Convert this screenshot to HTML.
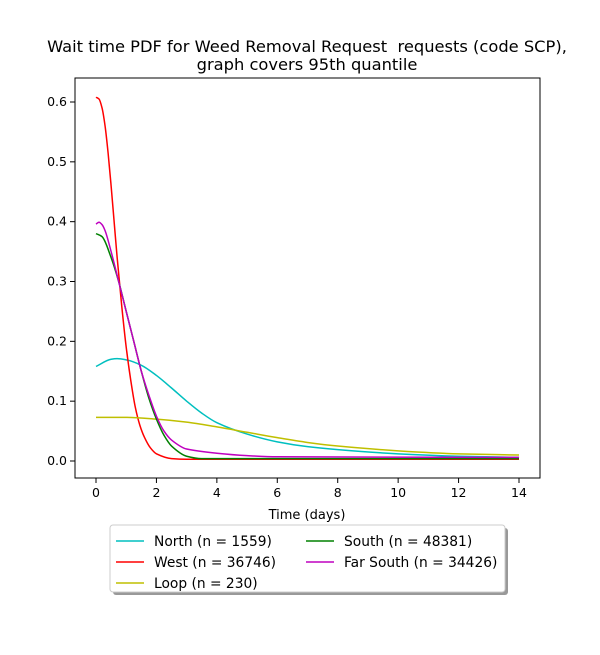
<!DOCTYPE html>
<html><head><meta charset="utf-8"><style>
body{margin:0;background:#fff;font-family:"Liberation Sans","DejaVu Sans",sans-serif;}
svg text{font-family:"DejaVu Sans","Liberation Sans",sans-serif;white-space:pre;}
</style></head><body>
<svg id="c" width="600" height="650" xmlns="http://www.w3.org/2000/svg">
<rect width="600" height="650" fill="#fff"/>
<text x="307" y="52" text-anchor="middle" font-size="16.3" xml:space="preserve">Wait time PDF for Weed Removal Request&#160; requests (code SCP),</text>
<text x="307" y="70" text-anchor="middle" font-size="16.3">graph covers 95th quantile</text>
<g id="plot"></g>
<rect x="75" y="78" width="465" height="400" fill="none" stroke="#000" stroke-width="1"/>
<g id="ticks"></g>
<text x="307" y="519" text-anchor="middle" font-size="13">Time (days)</text>
<g>
<rect x="113" y="528" width="395" height="67" rx="3" fill="#999" />
<rect x="110" y="525" width="395" height="67" rx="3" fill="#fff" stroke="#ccc"/>
<g id="leg"></g>
</g>
</svg>
<script>
const northX=[0,0.5,0.7,1,1.5,2,2.5,3,3.5,4,5,6,7,8,10,12,14];
const northY=[0.158,0.170,0.171,0.169,0.160,0.143,0.122,0.100,0.080,0.064,0.045,0.032,0.024,0.019,0.012,0.008,0.006];
const westX=[0,0.1,0.2,0.3,0.4,0.5,0.6,0.7,0.85,1,1.15,1.3,1.45,1.6,1.8,2,2.5,3,14];
const westY=[0.608,0.605,0.59,0.56,0.515,0.46,0.40,0.34,0.26,0.19,0.135,0.09,0.06,0.04,0.022,0.012,0.004,0.003,0.003];
const loopX=[0,1,2,3,4,5,6,7,8,10,12,14];
const loopY=[0.073,0.073,0.070,0.065,0.057,0.048,0.039,0.031,0.025,0.017,0.012,0.010];
const southX=[0,0.2,0.5,0.75,1,1.25,1.5,1.75,2,2.25,2.5,3,3.5,14];
const southY=[0.380,0.375,0.34,0.30,0.25,0.20,0.15,0.105,0.07,0.043,0.025,0.008,0.004,0.004];
const farX=[0,0.1,0.2,0.3,0.5,0.75,1,1.25,1.5,1.75,2,2.25,2.5,3,4,5,6,14];
const farY=[0.396,0.399,0.395,0.385,0.35,0.30,0.25,0.20,0.15,0.11,0.075,0.05,0.035,0.02,0.013,0.009,0.007,0.006];
const xTicks=[0,2,4,6,8,10,12,14];
const yTicks=[0.0,0.1,0.2,0.3,0.4,0.5,0.6];
const series=[
 {name:"North (n = 1559)",x:northX,y:northY,c:"#00bfbf",col:0,row:0},
 {name:"West (n = 36746)",x:westX,y:westY,c:"#ff0000",col:0,row:1},
 {name:"Loop (n = 230)",x:loopX,y:loopY,c:"#bfbf00",col:0,row:2},
 {name:"South (n = 48381)",x:southX,y:southY,c:"#008000",col:1,row:0},
 {name:"Far South (n = 34426)",x:farX,y:farY,c:"#bf00bf",col:1,row:1}];
const sx=v=>96+v*(519-96)/14, sy=v=>461-v*(461-102)/0.6;
const NS="http://www.w3.org/2000/svg";
const mk=(t,a,p)=>{const e=document.createElementNS(NS,t);for(const k in a)e.setAttribute(k,a[k]);p.appendChild(e);return e;};
const plot=document.getElementById('plot'),ticks=document.getElementById('ticks'),leg=document.getElementById('leg');
function path(xs,ys){
 const X=xs.map(sx),Y=ys.map(sy),n=X.length,d=[],m=[];
 for(let i=0;i<n-1;i++)d.push((Y[i+1]-Y[i])/(X[i+1]-X[i]));
 m[0]=d[0];m[n-1]=d[n-2];
 for(let i=1;i<n-1;i++)m[i]=(d[i-1]*d[i]<=0)?0:2/(1/d[i-1]+1/d[i]);
 let s="M"+X[0]+","+Y[0];
 for(let i=0;i<n-1;i++){const h=(X[i+1]-X[i])/3;
  s+=` C${X[i]+h},${Y[i]+m[i]*h} ${X[i+1]-h},${Y[i+1]-m[i+1]*h} ${X[i+1]},${Y[i+1]}`;}
 return s;}
series.forEach(s=>{const p=mk('path',{d:path(s.x,s.y),fill:'none',stroke:s.c,'stroke-width':1.5},plot);
 
 
 const lx=s.col?306:116,ly=541+s.row*21;
 const l=mk('line',{x1:lx,y1:ly,x2:lx+28,y2:ly,stroke:s.c,'stroke-width':1.5},leg);
 
 
 const t=mk('text',{x:lx+38,y:ly+5,'font-size':13.8},leg);t.textContent=s.name;
 
 });
xTicks.forEach(v=>{mk('line',{x1:sx(v),y1:478,x2:sx(v),y2:483,stroke:'#000'},ticks);
 const t=mk('text',{x:sx(v),y:497,'text-anchor':'middle','font-size':12.5},ticks);t.textContent=v;
 
 });
yTicks.forEach(v=>{mk('line',{x1:70,y1:sy(v),x2:75,y2:sy(v),stroke:'#000'},ticks);
 const t=mk('text',{x:67,y:sy(v)+4,'text-anchor':'end','font-size':12.5},ticks);t.textContent=v.toFixed(1);
 
 });
</script>
</body></html>
